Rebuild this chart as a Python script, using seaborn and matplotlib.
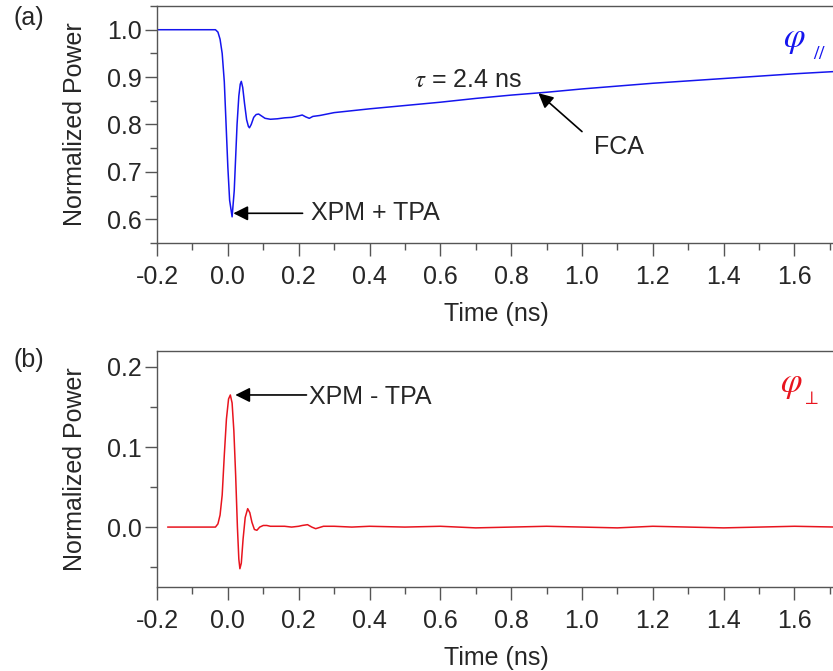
import numpy as np
import pandas as pd
import matplotlib
matplotlib.use('Agg')
import matplotlib.pyplot as plt
from matplotlib.ticker import MultipleLocator, FormatStrFormatter
import seaborn as sns

sns.set_style('ticks')
plt.rcParams['font.family'] = ['Liberation Sans', 'DejaVu Sans']
plt.rcParams['mathtext.fontset'] = 'stix'

# (a) parallel polarisation, normalized power vs time (ns)
t_par = [-0.2, -0.15, -0.1, -0.05, -0.035, -0.028, -0.022, -0.016, -0.01,
         -0.005, 0.0, 0.005, 0.012, 0.018, 0.022, 0.026, 0.031, 0.035, 0.038,
         0.042, 0.047, 0.053, 0.058, 0.061, 0.066, 0.073, 0.08, 0.087, 0.095,
         0.105, 0.12, 0.14, 0.16, 0.18, 0.2, 0.21, 0.22, 0.23, 0.24, 0.26,
         0.3, 0.4, 0.5, 0.6, 0.7, 0.8, 0.9, 1.0, 1.1, 1.2, 1.3, 1.4, 1.5,
         1.6, 1.72]
p_par = [1.0, 1.0, 1.0, 1.0, 1.0, 0.995, 0.98, 0.95, 0.89,
         0.80, 0.71, 0.64, 0.605, 0.66, 0.73, 0.80, 0.86, 0.885, 0.891,
         0.878, 0.845, 0.81, 0.796, 0.793, 0.80, 0.815, 0.821, 0.822, 0.818,
         0.813, 0.811, 0.812, 0.814, 0.815, 0.818, 0.820, 0.816, 0.813, 0.817,
         0.819, 0.825, 0.833, 0.840, 0.847, 0.855, 0.862, 0.868, 0.875,
         0.881, 0.887, 0.892, 0.897, 0.902, 0.907, 0.912]

# (b) perpendicular polarisation
t_perp = [-0.17, -0.1, -0.05, -0.035, -0.028, -0.022, -0.016, -0.01, -0.004,
          0.002, 0.007, 0.012, 0.017, 0.022, 0.027, 0.031, 0.034, 0.038,
          0.043, 0.049, 0.056, 0.062, 0.068, 0.075, 0.082, 0.09, 0.1, 0.11,
          0.12, 0.14, 0.16, 0.18, 0.2, 0.21, 0.225, 0.237, 0.248, 0.27, 0.3,
          0.35, 0.4, 0.5, 0.6, 0.7, 0.8, 0.9, 1.0, 1.1, 1.2, 1.3, 1.4, 1.5,
          1.6, 1.72]
p_perp = [0.0, 0.0, 0.0, 0.0, 0.004, 0.015, 0.04, 0.09, 0.135,
          0.16, 0.165, 0.155, 0.12, 0.065, 0.0, -0.04, -0.052, -0.045,
          -0.015, 0.012, 0.023, 0.018, 0.006, -0.003, -0.004, 0.0, 0.002, 0.002,
          0.001, 0.001, 0.001, 0.0, 0.001, 0.002, 0.003, 0.0, -0.002, 0.001, 0.001,
          0.0, 0.001, 0.0, 0.001, -0.001, 0.0, 0.001, 0.0, -0.001, 0.001, 0.0,
          -0.001, 0.0, 0.001, 0.0]

df_par = pd.DataFrame({'time': t_par, 'power': p_par})
df_perp = pd.DataFrame({'time': t_perp, 'power': p_perp})

fs = 18
grey = '#555555'
blue = '#1515ee'
red = '#e8141e'

fig = plt.figure(figsize=(8.33, 6.71), dpi=100)
ax1 = fig.add_axes([0.1885, 0.638, 0.815, 0.353])
ax2 = fig.add_axes([0.1885, 0.125, 0.815, 0.352])

sns.lineplot(data=df_par, x='time', y='power', ax=ax1, color=blue, lw=1.1)
sns.lineplot(data=df_perp, x='time', y='power', ax=ax2, color=red, lw=1.1)

for ax in (ax1, ax2):
    ax.set_xlim(-0.2, 1.717)
    ax.xaxis.set_major_locator(MultipleLocator(0.2))
    ax.xaxis.set_minor_locator(MultipleLocator(0.1))
    ax.yaxis.set_major_locator(MultipleLocator(0.1))
    ax.yaxis.set_minor_locator(MultipleLocator(0.05))
    ax.xaxis.set_major_formatter(FormatStrFormatter('%.1f'))
    ax.yaxis.set_major_formatter(FormatStrFormatter('%.1f'))
    ax.tick_params(which='major', length=9, width=1, color=grey,
                   labelsize=fs)
    ax.tick_params(which='minor', length=5, width=1, color=grey)
    ax.tick_params(axis='x', which='major', pad=7)
    ax.tick_params(axis='y', which='major', pad=2)
    ax.spines['right'].set_visible(False)
    for s in ('left', 'top', 'bottom'):
        ax.spines[s].set_color(grey)
        ax.spines[s].set_linewidth(1)
    ax.set_xlabel('Time (ns)', fontsize=fs, labelpad=9)
    ax.set_ylabel('Normalized Power', fontsize=fs, labelpad=14)

ax1.set_ylim(0.55, 1.05)
ax2.set_ylim(-0.075, 0.22)

fig.text(0.016, 0.973, '(a)', fontsize=fs, va='center', ha='left')
fig.text(0.016, 0.463, '(b)', fontsize=fs, va='center', ha='left')

arrow = dict(arrowstyle='-|>', color='black', lw=1.2, mutation_scale=22,
             shrinkA=0, shrinkB=0)
ax1.annotate('', xy=(0.0155, 0.6125), xytext=(0.211, 0.6125), arrowprops=arrow)
ax1.text(0.234, 0.6125, 'XPM + TPA', fontsize=fs, va='center', ha='left')
ax1.annotate('', xy=(0.877, 0.866), xytext=(1.0, 0.785), arrowprops=arrow)
ax1.text(1.033, 0.753, 'FCA', fontsize=fs, va='center', ha='left')
ax1.text(0.526, 0.893, r'$\tau$ = 2.4 ns', fontsize=fs, va='center', ha='left')
ax1.text(1.6, 0.979, r'$\varphi$', fontsize=25, color=blue,
         va='center', ha='center')
ax1.text(1.672, 0.947, r'$//$', fontsize=14, color=blue,
         va='center', ha='center')

ax2.annotate('', xy=(0.021, 0.165), xytext=(0.222, 0.165), arrowprops=arrow)
ax2.text(0.23, 0.163, 'XPM - TPA', fontsize=fs, va='center', ha='left')
ax2.text(1.59, 0.178, r'$\varphi$', fontsize=25, color=red,
         va='center', ha='center')
ax2.text(1.647, 0.159, r'$\perp$', fontsize=14, color=red,
         va='center', ha='center')

fig.savefig('out.png', dpi=100)
